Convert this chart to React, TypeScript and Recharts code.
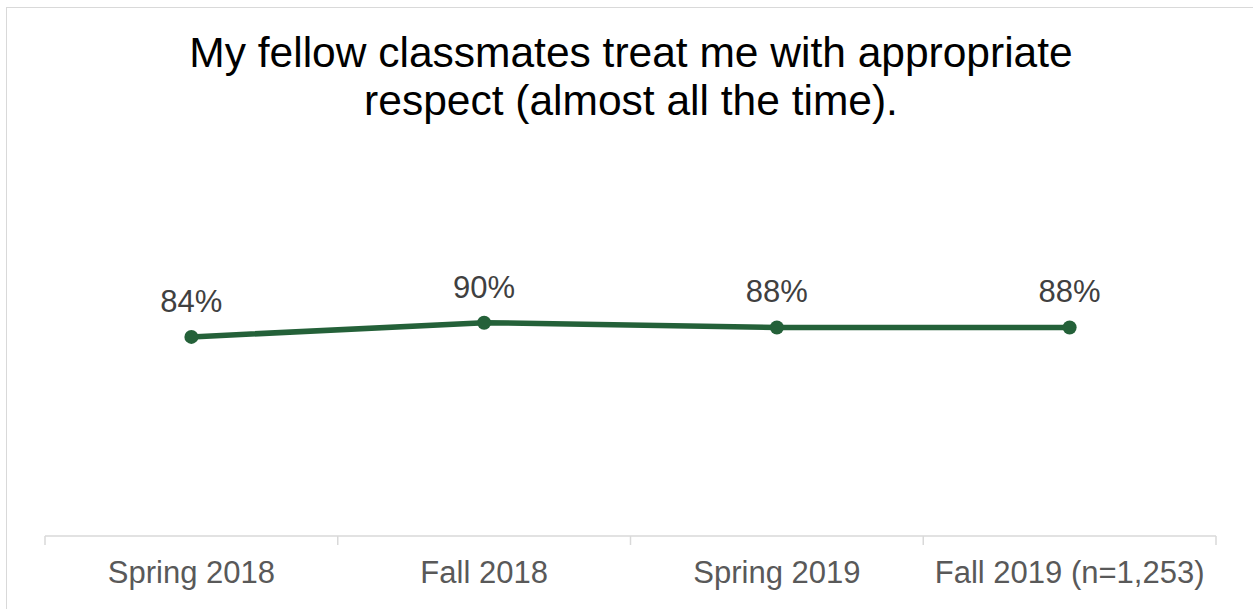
import { LineChart, Line, XAxis, YAxis, LabelList } from 'recharts';

const terms = ['Spring 2018', 'Fall 2018', 'Spring 2019', 'Fall 2019 (n=1,253)'];
const respectPct = [84, 90, 88, 88];
const titleLines = ['My fellow classmates treat me with appropriate', 'respect (almost all the time).'];

const data = terms.map((term, i) => ({ term, value: respectPct[i] }));

const W = 1253;
const H = 609;
const PLOT_LEFT = 45;
const PLOT_RIGHT = 1216;
const HALF_BAND = (PLOT_RIGHT - PLOT_LEFT) / terms.length / 2;
const FONT = '"Liberation Sans", Arial, sans-serif';
const GREEN = '#246139';
const AXIS_GRAY = '#d9d9d9';

// tick label + boundary tick marks (Excel style, between categories)
function TermTick(props: any) {
  const { x, y, payload, index } = props;
  const last = index === terms.length - 1;
  return (
    <g>
      <line x1={x - HALF_BAND} x2={x - HALF_BAND} y1={y} y2={y + 9} stroke={AXIS_GRAY} strokeWidth={1.5} />
      {last && (
        <line x1={x + HALF_BAND} x2={x + HALF_BAND} y1={y} y2={y + 9} stroke={AXIS_GRAY} strokeWidth={1.5} />
      )}
      <text x={x} y={y + 47} textAnchor="middle" fill="#595959" fontSize={31} fontFamily={FONT}>
        {payload.value}
      </text>
    </g>
  );
}

export default function App() {
  return (
    <div style={{ position: 'absolute', left: 0, top: 0, width: W, height: H, overflow: 'hidden', background: '#fff' }}>
      <div
        style={{
          position: 'absolute',
          left: 6,
          top: 7,
          width: W + 20,
          height: H + 20,
          border: `1.5px solid ${AXIS_GRAY}`,
        }}
      />
      <svg width={W} height={130} style={{ position: 'absolute', left: 0, top: 0 }}>
        {titleLines.map((line, i) => (
          <text key={i} x={631} y={67 + i * 48} textAnchor="middle" fontSize={42.5} fontFamily={FONT} fill="#000">
            {line}
          </text>
        ))}
      </svg>
      <div style={{ position: 'absolute', left: 0, top: 0 }}>
        <LineChart width={W} height={H} data={data} margin={{ top: 299, right: W - PLOT_RIGHT, bottom: 13, left: PLOT_LEFT }}>
          <XAxis
            dataKey="term"
            height={60}
            padding={{ left: HALF_BAND, right: HALF_BAND }}
            axisLine={{ stroke: AXIS_GRAY, strokeWidth: 1.5 }}
            tickLine={false}
            tickSize={0}
            tickMargin={0}
            interval={0}
            tick={(p: any) => <TermTick {...p} />}
          />
          <YAxis hide domain={[0, 100]} />
          <Line
            dataKey="value"
            stroke={GREEN}
            strokeWidth={5.5}
            dot={{ r: 7, fill: GREEN, stroke: GREEN, strokeWidth: 0 }}
            isAnimationActive={false}
          >
            <LabelList
              dataKey="value"
              position="top"
              offset={25}
              formatter={(v: any) => `${v}%`}
              style={{ fill: '#404040', fontSize: 31, fontFamily: FONT }}
            />
          </Line>
        </LineChart>
      </div>
    </div>
  );
}
